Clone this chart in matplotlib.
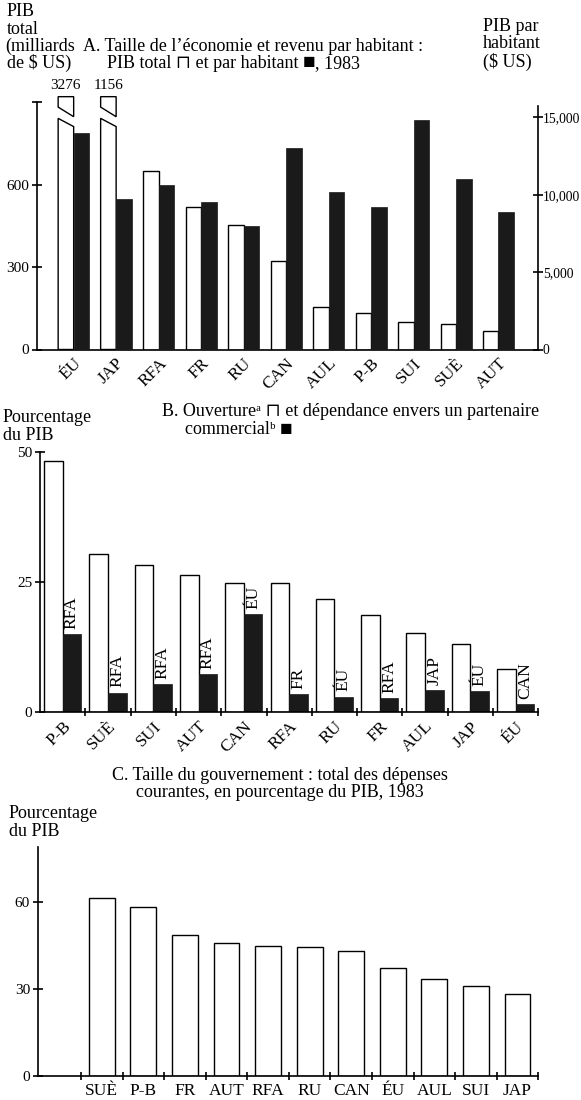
import matplotlib
matplotlib.use('Agg')
import matplotlib.pyplot as plt
import numpy as np
from matplotlib.patches import Polygon

plt.rcParams['font.family'] = ['Liberation Serif', 'DejaVu Serif', 'DejaVu Sans']
plt.rcParams['axes.linewidth'] = 1.2

# A. taille de l'economie, 1983
pays_a = ['ÉU', 'JAP', 'RFA', 'FR', 'RU', 'CAN', 'AUL', 'P-B', 'SUI', 'SUÈ', 'AUT']
pib_total = [3276, 1156, 650, 519, 453, 322, 156, 134, 99, 93, 67]      # milliards $ US
pib_hab = [14000, 9700, 10600, 9550, 8000, 13000, 10200, 9200, 14850, 11000, 8900]  # $ US

# B. ouverture et dependance envers un partenaire
pays_b = ['P-B', 'SUÈ', 'SUI', 'AUT', 'CAN', 'RFA', 'RU', 'FR', 'AUL', 'JAP', 'ÉU']
ouverture = [48.3, 30.4, 28.3, 26.3, 24.8, 24.8, 21.7, 18.7, 15.1, 13.0, 8.2]
dependance = [15.0, 3.7, 5.3, 7.2, 18.8, 3.4, 2.9, 2.7, 4.2, 4.0, 1.4]
partenaire = ['RFA', 'RFA', 'RFA', 'RFA', 'ÉU', 'FR', 'ÉU', 'RFA', 'JAP', 'ÉU', 'CAN']

# C. depenses courantes du gouvernement, % du PIB
pays_c = ['SUÈ', 'P-B', 'FR', 'AUT', 'RFA', 'RU', 'CAN', 'ÉU', 'AUL', 'SUI', 'JAP']
depenses = [61.4, 58.3, 48.4, 45.7, 44.8, 44.4, 43.0, 37.2, 33.2, 31.0, 28.3]

W, H = 581, 1100
fs = 11      # chiffres
ft = 13      # titres et libelles
fx = 12.5    # noms de pays
noir = '#1a1a1a'

fig = plt.figure(figsize=(W / 100, H / 100), dpi=100)
rend = fig.canvas.get_renderer()


def box(x0, y_bas, x1, y_haut):
    # pixel box -> figure fraction
    return [x0 / W, 1 - y_bas / H, (x1 - x0) / W, (y_bas - y_haut) / H]


def ligne(s, x, y, ha='left', size=ft):
    fig.text(x / W, 1 - y / H, s, ha=ha, va='center', fontsize=size)


def morceaux(parts, x, y):
    # texte en plusieurs morceaux sur une meme ligne de base
    for s, size in parts:
        t = fig.text(x / W, 1 - (y + 4.5) / H, s, ha='left', va='baseline', fontsize=size)
        x += t.get_window_extent(renderer=rend).width


def cross_ticks(ax, axis='y', size=fs):
    ax.tick_params(axis=axis, direction='inout', length=7, width=1.2, labelsize=size)


# ---------------- A ----------------
axA = fig.add_axes(box(36.7, 349.5, 538, 94.2))
x = np.arange(len(pays_a))
w = 0.365
cap = 900
axA.set_xlim(-0.87, 10.93)
axA.set_ylim(0, 930)

for i, v in enumerate(pib_total):
    x0, x1 = i - w, i
    if v > cap:
        axA.add_patch(Polygon([(x0, 0), (x0, 842), (x1, 812), (x1, 0)],
                              closed=True, fc='white', ec='black', lw=1.0))
        axA.add_patch(Polygon([(x0, 921), (x1, 921), (x1, 848), (x0, 883)],
                              closed=True, fc='white', ec='black', lw=1.0, clip_on=False))
        axA.text(i - w / 2, 962, str(v), ha='center', va='center', fontsize=fs, clip_on=False)
    else:
        axA.bar(i - w / 2, v, w, facecolor='white', edgecolor='black', lw=1.0)

ax2 = axA.twinx()
ax2.set_ylim(0, 930 * 0.2745 / 0.01548)
ax2.bar(x + w / 2, pib_hab, w, color=noir, edgecolor=noir, lw=0.5)

for s in ['top', 'right']:
    axA.spines[s].set_visible(False)
axA.spines['left'].set_bounds(0, cap)
for s in ['top', 'left', 'bottom']:
    ax2.spines[s].set_visible(False)
ax2.spines['right'].set_bounds(0, 15700)

axA.set_yticks([0, 300, 600, 900])
axA.set_yticklabels(['0', '300', '600', ''])
cross_ticks(axA)
axA.tick_params(axis='y', pad=2)
ax2.set_yticks([0, 5000, 10000, 15000])
ax2.set_yticklabels(['0', '5,000', '10,000', '15,000'])
cross_ticks(ax2, size=9.8)
ax2.tick_params(axis='y', pad=0)

axA.set_xticks(x)
axA.set_xticklabels(pays_a, rotation=45, ha='right', va='top', rotation_mode='anchor')
axA.tick_params(axis='x', length=0, labelsize=fx, pad=4)

ligne('PIB', 7, 11.7)
ligne('total', 7, 29)
ligne('(milliards', 5, 46.7)
ligne('de $ US)', 7, 63)
ligne('A. Taille de l’économie et revenu par habitant :', 83, 46.7)
morceaux([('PIB total ⊓ et par habitant ', ft), ('■', 15), (', 1983', ft)], 106.7, 63.3)
ligne('PIB par', 483, 26.7)
ligne('habitant', 483, 44)
ligne('($ US)', 483, 61.7)

# ---------------- B ----------------
axB = fig.add_axes(box(40, 711.7, 538.3, 452.3))
wb = 0.41
axB.set_xlim(-0.5, 10.5)
axB.set_ylim(0, 50)
axB.bar(x - wb / 2, ouverture, wb, facecolor='white', edgecolor='black', lw=1.0)
axB.bar(x + wb / 2, dependance, wb, color=noir, edgecolor=noir, lw=0.5)
for i, p in enumerate(partenaire):
    axB.text(i + wb / 2, dependance[i] + 1.0, p, rotation=90, ha='center', va='bottom', fontsize=fx)

for s in ['top', 'right']:
    axB.spines[s].set_visible(False)
axB.set_yticks([0, 25, 50])
cross_ticks(axB)
axB.tick_params(axis='y', pad=2)
axB.set_xticks(x)
axB.set_xticklabels(pays_b, rotation=45, ha='right', va='top', rotation_mode='anchor')
axB.tick_params(axis='x', which='major', length=0, labelsize=fx, pad=5)
axB.set_xticks(np.arange(0.5, 11, 1), minor=True)
axB.tick_params(axis='x', which='minor', direction='inout', length=6, width=1.2)

ligne('Pourcentage', 3, 417.7)
ligne('du PIB', 3, 435)
ligne('B. Ouvertureᵃ ⊓ et dépendance envers un partenaire', 161.7, 411.7)
morceaux([('commercialᵇ ', ft), ('■', 15)], 185, 430)

# ---------------- C ----------------
axC = fig.add_axes(box(37.7, 1075.7, 538.3, 846.7))
axC.set_xlim(-1.54, 10.5)
axC.set_ylim(0, 79)
axC.bar(x, depenses, 0.62, facecolor='white', edgecolor='black', lw=1.0)

for s in ['top', 'right']:
    axC.spines[s].set_visible(False)
axC.set_yticks([0, 30, 60])
cross_ticks(axC)
axC.tick_params(axis='y', pad=2)
axC.set_xticks(x)
axC.set_xticklabels(pays_c)
axC.tick_params(axis='x', which='major', length=0, labelsize=fx, pad=5)
axC.set_xticks(np.arange(-0.5, 11, 1), minor=True)
axC.tick_params(axis='x', which='minor', direction='inout', length=6, width=1.2)

ligne('C. Taille du gouvernement : total des dépenses', 280, 775, ha='center')
ligne('courantes, en pourcentage du PIB, 1983', 280, 792.7, ha='center')
ligne('Pourcentage', 9, 813.3)
ligne('du PIB', 9, 831)

fig.savefig('out.png', dpi=100)
